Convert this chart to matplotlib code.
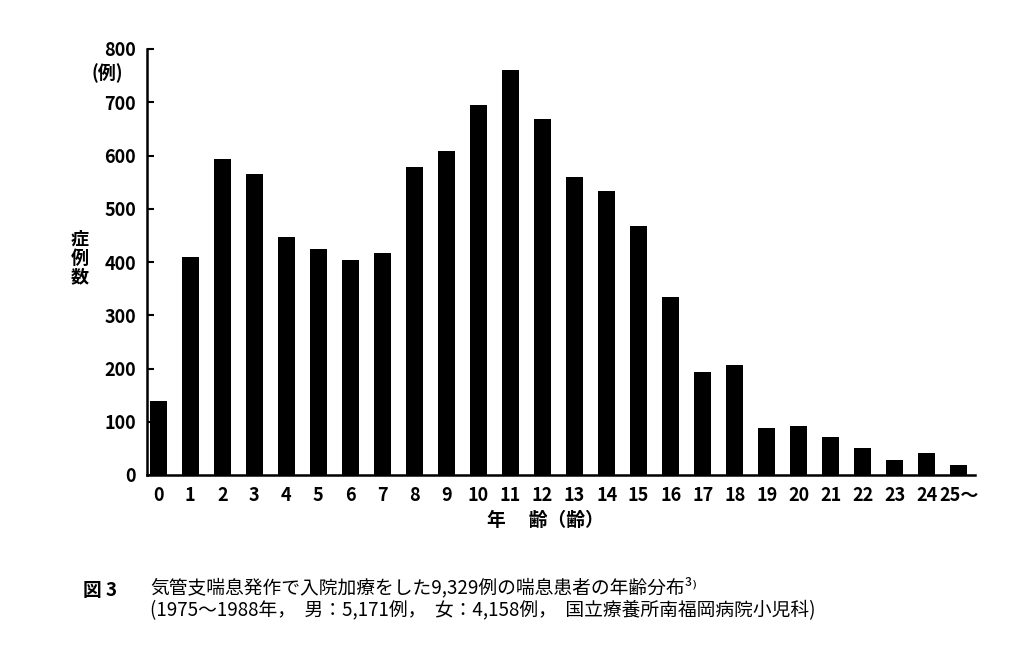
import matplotlib
matplotlib.use("Agg")
import matplotlib.pyplot as plt

plt.rcParams['font.family'] = ['Noto Sans CJK JP', 'DejaVu Sans']

ages = [str(i) for i in range(25)] + ["25〜"]
cases = [139, 410, 593, 566, 447, 424, 403, 416, 578, 608, 695, 760, 669,
         559, 534, 468, 334, 193, 206, 88, 92, 71, 50, 29, 41, 18]
yticks = [0, 100, 200, 300, 400, 500, 600, 700, 800]

fig = plt.figure(figsize=(10.24, 6.53), dpi=100)
ax = fig.add_axes([147/1024, 1-475/653, 828/1024, (475-49)/653])

x = list(range(len(cases)))
ax.bar(x, cases, width=0.53, color='black')
ax.set_xlim(-0.35, 25.5)
ax.set_ylim(0, 800)
ax.set_yticks(yticks)
ax.set_xticks(x)
ax.set_xticklabels(ages)
for s in ['top', 'right']:
    ax.spines[s].set_visible(False)
for s in ['left', 'bottom']:
    ax.spines[s].set_linewidth(1.8)
ax.tick_params(axis='y', direction='in', length=5, width=1.5, labelsize=13, pad=8)
ax.tick_params(axis='x', length=0, labelsize=13, pad=8)
for lab in ax.get_xticklabels() + ax.get_yticklabels():
    lab.set_fontweight('bold')

fig.text(107/1024, 1-73/653, "(例)", ha='center', va='center', fontsize=13, fontweight='bold')
fig.text(80/1024, 1-258/653, "症\n例\n数", ha='center', va='center', fontsize=13,
         fontweight='bold', linespacing=1.0)
fig.text(545/1024, 1-520/653, "年　 齢（齢）", ha='center', va='center', fontsize=13.5,
         fontweight='bold')

fig.text(83/1024, 1-591/653, "図 3", ha='left', va='center', fontsize=13.5, fontweight='bold')
fig.text(150/1024, 1-588/653, "気管支喘息発作で入院加療をした9,329例の喘息患者の年齢分布³⁾",
         ha='left', va='center', fontsize=13.5)
fig.text(150/1024, 1-611/653,
         "(1975〜1988年，  男：5,171例，  女：4,158例，  国立療養所南福岡病院小児科)",
         ha='left', va='center', fontsize=13.5)

fig.savefig("out.png", dpi=100, facecolor='white')
